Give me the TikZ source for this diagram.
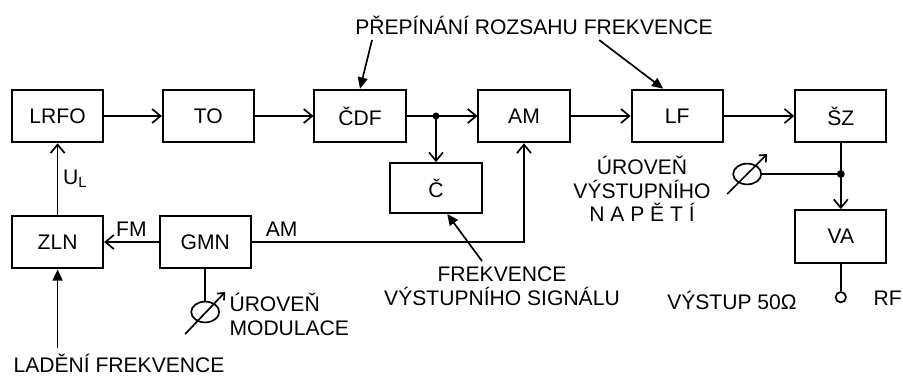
\documentclass[tikz,border=0pt]{standalone}
\usepackage{fontspec}
\setmainfont{Liberation Sans}
\usetikzlibrary{arrows.meta,positioning,calc,shapes.geometric}

\begin{document}
\begin{tikzpicture}[>={Straight Barb[length=6pt,width=10pt]},line width=1.2pt,
 font=\fontsize{15}{17}\selectfont,
 blok/.style={draw,line width=1.3pt,minimum width=2.28cm,minimum height=1.32cm,inner sep=2pt},
 ukaz/.style={-{Triangle[length=8pt,width=7pt]}},
 pot/.style={draw,ellipse,minimum width=0.7cm,minimum height=0.52cm,inner sep=0pt},
 potsip/.style={-{Straight Barb[length=4pt,width=7pt]}}]
\useasboundingbox (0,0) rectangle (22.575,-9.425);
% horni rada
\node[blok] (lrfo) at (1.44,-2.9) {LRFO};
\node[blok] (tob) at (5.21,-2.9) {TO};
\node[blok] (cdf) at (9.0,-2.9) {ČDF};
\node[blok] (amod) at (13.1,-2.9) {AM};
\node[blok] (lf) at (16.93,-2.9) {LF};
\node[blok] (sz) at (21.02,-2.9) {ŠZ};
\node[blok,minimum height=1.25cm] (cit) at (10.9,-4.7) {Č};
% dolni rada
\node[blok] (zln) at (1.44,-6.05) {ZLN};
\node[blok] (gmn) at (5.13,-6.05) {GMN};
\node[blok] (va) at (21.02,-5.91) {VA};
\draw[->] (lrfo) -- (tob);
\draw[->] (tob) -- (cdf);
\draw[->] (cdf) -- (amod);
\draw[->] (amod) -- (lf);
\draw[->] (lf) -- (sz);
\coordinate (j1) at (cit |- cdf);
\fill (j1) circle (2.5pt);
\draw[->] (j1) -- (cit);
\draw[->] (zln) -- node[right]{U\textsubscript{L}} (lrfo);
\draw[->] (gmn) -- node[above]{FM} (zln);
\draw[->] (gmn.east) -- node[above,pos=0.11]{AM} (gmn.east -| amod) -- (amod);
% regulace modulace
\node[pot] (potm) at (5.13,-7.8) {};
\draw (gmn) -- (potm);
\draw[potsip] ([shift={(-0.5,-0.55)}]potm.center) -- ([shift={(0.5,0.5)}]potm.center);
\node[anchor=west,align=left] (urmod) at (5.6,-7.85) {ÚROVEŇ\\MODULACE};
% vystup
\node[pot] (potv) at (18.68,-4.35) {};
\draw[potsip] ([shift={(-0.5,-0.5)}]potv.center) -- ([shift={(0.5,0.5)}]potv.center);
\coordinate (j2) at (sz |- potv);
\draw (potv) -- (j2);
\fill (j2) circle (2.8pt);
\draw[->] (sz) -- (va);
\node[align=center] (urvys) at (16.05,-4.72) {ÚROVEŇ\\VÝSTUPNÍHO\\N A P Ě T Í};
\node[draw,circle,minimum size=0.26cm,inner sep=0pt] (vyst) at (21.02,-7.43) {};
\draw (va) -- (vyst);
\node[anchor=west] (rf) at (21.7,-7.45) {RF};
\node (vystup) at (18.3,-7.5) {VÝSTUP 50Ω};
% popisy
\node (prep) at (13.35,-0.63) {PŘEPÍNÁNÍ ROZSAHU FREKVENCE};
\draw[ukaz] ([xshift=-4.05cm]prep.south) -- (cdf.north);
\draw[ukaz] ([xshift=1.63cm]prep.south) -- ([xshift=-0.35cm]lf.north);
\node[align=center] (frek) at (12.55,-7.15) {FREKVENCE\\VÝSTUPNÍHO SIGNÁLU};
\draw[ukaz] ([xshift=-0.5cm]frek.north) -- ([xshift=0.28cm]cit.south);
\node[anchor=west] (ladeni) at (0.2,-9.08) {LADĚNÍ FREKVENCE};
\draw[ukaz] (ladeni.north -| zln) -- (zln);
\end{tikzpicture}
\end{document}
